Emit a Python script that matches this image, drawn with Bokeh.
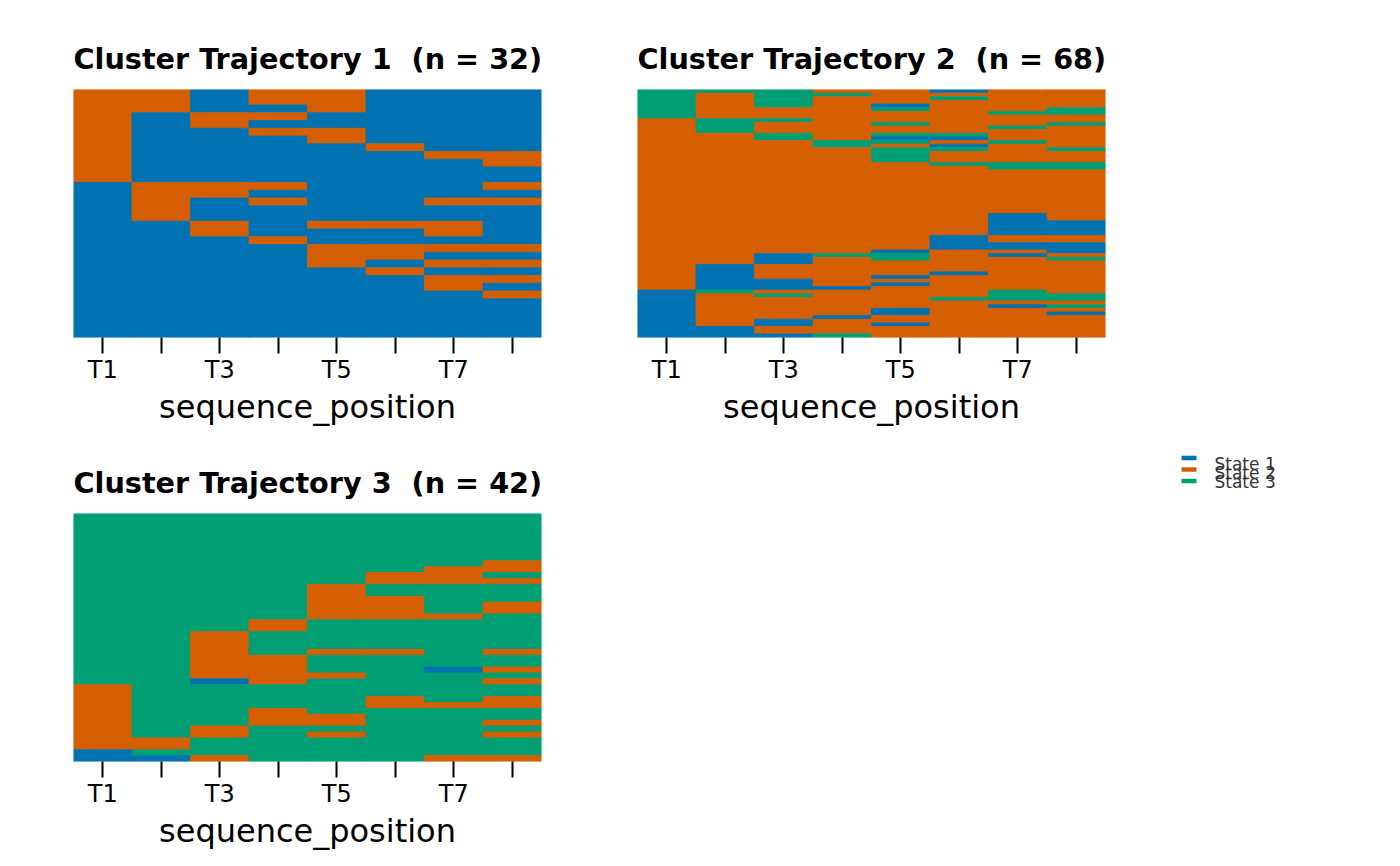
import numpy as np
from bokeh.plotting import figure
from bokeh.layouts import column, row
from bokeh.models import ColumnDataSource, Range1d, FixedTicker
from bokeh.core.properties import value
from bokeh.embed import file_html
from bokeh.resources import INLINE

STATES = ["State 1", "State 2", "State 3"]
STATE_COLORS = ["#0072B2", "#D55E00", "#009E73"]
POSITIONS = ["T1", "T2", "T3", "T4", "T5", "T6", "T7", "T8"]
SHOWN_TICKS = ["T1", "T3", "T5", "T7"]

# one string per sequence (top row first), one digit per position = state number
cluster_1 = [
    "22122111", "22122111", "22112111", "21221111", "21211111", "21122111",
    "21112111", "21111211", "21111122", "21111112", "21111111", "21111111",
    "12221112", "12211111", "12121122", "12111111", "12111111", "11212221",
    "11211121", "11121111", "11112222", "11112211", "11112122", "11111211",
    "11111122", "11111121", "11111112", "11111111", "11111111", "11111111",
    "11111111", "11111111",
]

cluster_2 = [
    "33322122", "32332222", "32322322", "32322222", "32321222", "32223223",
    "32222233", "32222222", "23322222", "23223223", "23222232", "23222222",
    "22323322", "22321122", "22233232", "22232122", "22223323", "22223222",
    "22223222", "22223222", "22222333", "22222233", "22222222", "22222222",
    "22222222", "22222222", "22222222", "22222222", "22222222", "22222222",
    "22222222", "22222222", "22222222", "22222222", "22222212", "22222212",
    "22222211", "22222211", "22222211", "22222211", "22222122", "22222122",
    "22222111", "22222111", "22221221", "22133212", "22123223", "22122222",
    "21222222", "21222222", "21222122", "21221222", "21122222", "21121222",
    "21112222", "13222232", "12322233", "12222333", "12222222", "12222213",
    "12221222", "12221221", "12212222", "12122222", "12121222", "11222222",
    "11222222", "11132222",
]

cluster_3 = [
    "33333333", "33333333", "33333333", "33333333", "33333333", "33333333",
    "33333333", "33333333", "33333332", "33333322", "33333223", "33333222",
    "33332333", "33332333", "33332233", "33332232", "33332232", "33332223",
    "33323333", "33323333", "33233333", "33233333", "33233333", "33232232",
    "33223333", "33223333", "33223312", "33222333", "33123332", "23333333",
    "23333333", "23333232", "23333222", "23323333", "23322333", "23322332",
    "23233333", "23232332", "22333333", "22333333", "13333333", "11233322",
]

FONT = "DejaVu Sans"
PAGE_PAD = 8          # the template has no body margin, so pad the outer borders
FRAME_W, FRAME_H = 468, 248
BORDER_L, BORDER_R, BORDER_T, BORDER_B = 65, 31, 81, 95


def runs(seqs):
    """Merge consecutive equal states down each position into single blocks."""
    left, right, top, bottom, color = [], [], [], [], []
    for j in range(len(POSITIONS)):
        col = [s[j] for s in seqs]
        start = 0
        for i in range(1, len(col) + 1):
            if i == len(col) or col[i] != col[start]:
                left.append(j + 0.5)
                right.append(j + 1.5)
                top.append(start)
                bottom.append(i)
                color.append(STATE_COLORS[int(col[start]) - 1])
                start = i
    return dict(left=left, right=right, top=top, bottom=bottom, c=color)


def seq_panel(seqs, name, first_col, first_row):
    n = len(seqs)
    src = ColumnDataSource(runs(seqs))

    left_b = BORDER_L + (PAGE_PAD if first_col else 0)
    top_b = BORDER_T + (PAGE_PAD if first_row else 0)
    p = figure(
        width=left_b + FRAME_W + BORDER_R, height=top_b + FRAME_H + BORDER_B,
        x_range=Range1d(0.5, len(POSITIONS) + 0.5),
        y_range=Range1d(n, 0),
        title=f"{name} \u00a0(n = {n})",
        output_backend="svg", toolbar_location=None,
        y_axis_location=None,
        min_border_left=left_b, min_border_right=BORDER_R,
        min_border_top=top_b, min_border_bottom=BORDER_B,
    )
    p.quad(left="left", right="right", top="top", bottom="bottom", source=src,
           fill_color="c", line_color="c", line_width=0.8)

    p.grid.visible = False
    p.outline_line_color = None

    p.title.text_font = FONT
    p.title.text_font_size = "28.7px"
    p.title.text_font_style = "bold"
    p.title.text_color = "black"
    p.title.align = "left"
    p.title.standoff = 28

    ax = p.xaxis[0]
    ax.ticker = FixedTicker(ticks=list(range(1, len(POSITIONS) + 1)))
    ax.major_label_overrides = {
        i + 1: (lab if lab in SHOWN_TICKS else "") for i, lab in enumerate(POSITIONS)
    }
    ax.axis_label = "sequence_position"
    ax.axis_label_text_font = FONT
    ax.axis_label_text_font_size = "32px"
    ax.axis_label_text_font_style = "normal"
    ax.axis_label_text_color = "black"
    ax.axis_label_standoff = 1
    ax.major_label_text_font = FONT
    ax.major_label_text_font_size = "24px"
    ax.major_label_text_color = "black"
    ax.major_label_standoff = 2
    ax.axis_line_color = None
    ax.major_tick_in = 0
    ax.major_tick_out = 16
    ax.major_tick_line_width = 2
    ax.major_tick_line_color = "black"
    ax.minor_tick_line_color = None
    return p


p1 = seq_panel(cluster_1, "Cluster Trajectory 1", True, True)
p2 = seq_panel(cluster_2, "Cluster Trajectory 2", False, True)
p3 = seq_panel(cluster_3, "Cluster Trajectory 3", True, False)

# legend panel beside panel 3; its frame gets aligned with panel 3's frame, so the
# y range is set up to read in pixels from the top of the figure (y downwards)
LEG_W = 800
leg = figure(
    width=LEG_W, height=p3.height,
    x_range=Range1d(0, LEG_W), y_range=Range1d(BORDER_T + FRAME_H, BORDER_T),
    output_backend="svg", toolbar_location=None,
    x_axis_location=None, y_axis_location=None,
    min_border_left=0, min_border_right=0, min_border_top=BORDER_T, min_border_bottom=BORDER_B,
    outline_line_color=None,
)
leg.grid.visible = False
k = np.arange(len(STATES))
key_src = ColumnDataSource(dict(
    x=[616.5] * len(STATES), y=25.5 + 11.5 * k, c=STATE_COLORS,
))
keys = leg.rect("x", "y", 15, 4.5, source=key_src, fill_color="c", line_color=None)
keys.level = "overlay"   # drawn above the frame, so keep it out of frame clipping
lab_src = ColumnDataSource(dict(x=[642] * len(STATES), y=31 + 9 * k, t=STATES))
labs = leg.text("x", "y", text="t", source=lab_src, text_font=value(FONT),
                text_font_size="17px", text_color="#333333", text_baseline="alphabetic")
labs.level = "overlay"

layout = column(row(p1, p2), row(p3, leg))

open("out.html", "w").write(file_html(layout, INLINE))
